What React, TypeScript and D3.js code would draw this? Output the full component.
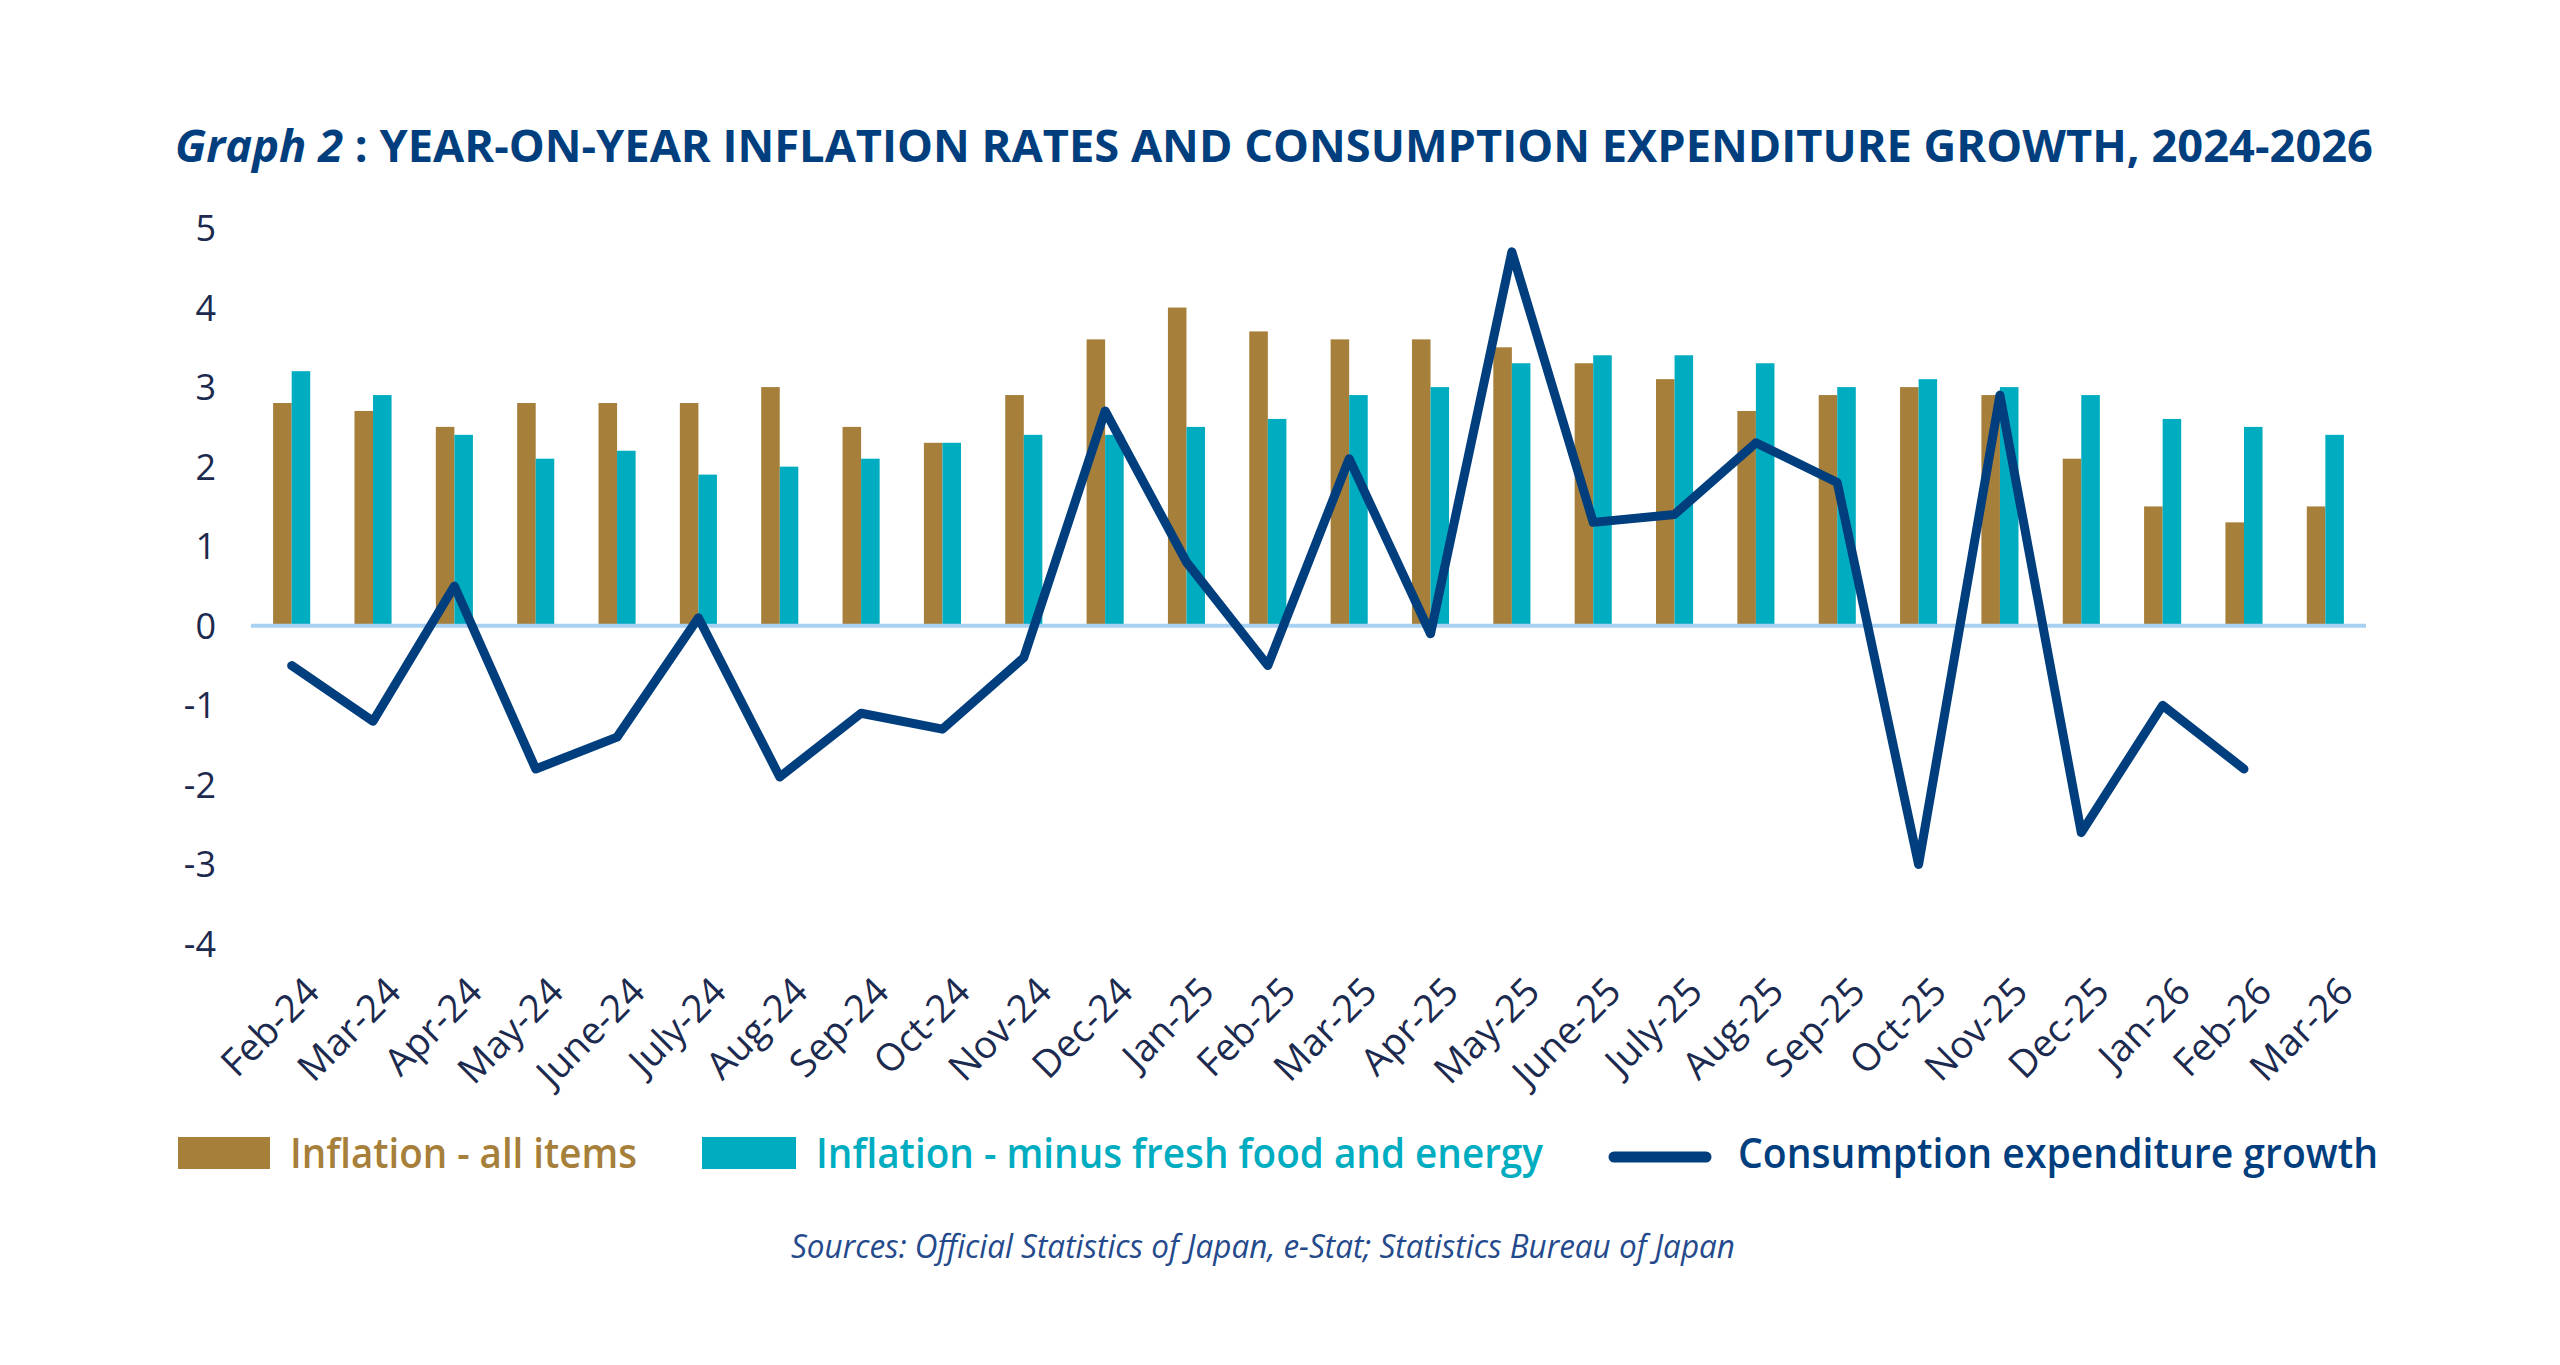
import React, { useRef, useEffect } from 'react';
import * as d3 from 'd3';

// months on the x axis
const months = [
    'Feb-24', 'Mar-24', 'Apr-24', 'May-24', 'June-24', 'July-24', 'Aug-24',
    'Sep-24', 'Oct-24', 'Nov-24', 'Dec-24', 'Jan-25', 'Feb-25', 'Mar-25',
    'Apr-25', 'May-25', 'June-25', 'July-25', 'Aug-25', 'Sep-25', 'Oct-25',
    'Nov-25', 'Dec-25', 'Jan-26', 'Feb-26', 'Mar-26',
];

// inflation - all items (%)
const inflationAll = [
    2.8, 2.7, 2.5, 2.8, 2.8, 2.8, 3.0, 2.5, 2.3, 2.9, 3.6, 4.0, 3.7, 3.6,
    3.6, 3.5, 3.3, 3.1, 2.7, 2.9, 3.0, 2.9, 2.1, 1.5, 1.3, 1.5,
];

// inflation - minus fresh food and energy (%)
const inflationCore = [
    3.2, 2.9, 2.4, 2.1, 2.2, 1.9, 2.0, 2.1, 2.3, 2.4, 2.4, 2.5, 2.6, 2.9,
    3.0, 3.3, 3.4, 3.4, 3.3, 3.0, 3.1, 3.0, 2.9, 2.6, 2.5, 2.4,
];

// consumption expenditure growth (%), no value yet for Mar-26
const consumption: (number | null)[] = [
    -0.5, -1.2, 0.5, -1.8, -1.4, 0.1, -1.9, -1.1, -1.3, -0.4, 2.7, 0.8, -0.5,
    2.1, -0.1, 4.7, 1.3, 1.4, 2.3, 1.8, -3.0, 2.9, -2.6, -1.0, -1.8, null,
];

const yTicks = [5, 4, 3, 2, 1, 0, -1, -2, -3, -4];

const seriesNames = [
    'Inflation - all items',
    'Inflation - minus fresh food and energy',
    'Consumption expenditure growth',
];

const BROWN = '#a67f3a';
const TEAL = '#00acbf';
const NAVY = '#003e7e';
const LABEL = '#1b2a4e';
const FONT = "'Open Sans', 'Noto Sans', sans-serif";

const W = 2560;
const H = 1365;

const App: React.FC = () => {
    const svgRef = useRef<SVGSVGElement | null>(null);

    useEffect(() => {
        document.body.style.margin = '0';
        if (!svgRef.current) return;
        const svg = d3.select(svgRef.current);
        svg.selectAll('*').remove();

        const x = d3
            .scaleBand()
            .domain(months)
            .range([251, 2366])
            .paddingInner(0)
            .paddingOuter(0);

        const y = d3.scaleLinear().domain([-4, 5]).range([944, 228]);

        const barW = x.bandwidth() * 0.228;

        // title
        const title = svg
            .append('text')
            .attr('x', 175)
            .attr('y', 162)
            .attr('fill', NAVY)
            .attr('font-family', FONT)
            .attr('font-size', 44)
            .attr('font-weight', 700);
        title
            .append('tspan')
            .attr('font-style', 'italic')
            .text('Graph 2');
        title.append('tspan').text(' : ');
        title
            .append('tspan')
            .text(
                'YEAR-ON-YEAR INFLATION RATES AND CONSUMPTION EXPENDITURE GROWTH, 2024-2026',
            );
        title.attr('textLength', 2198).attr('lengthAdjust', 'spacingAndGlyphs');

        // y axis labels
        svg.append('g')
            .selectAll('text')
            .data(yTicks)
            .enter()
            .append('text')
            .attr('x', 216)
            .attr('y', (d) => y(d))
            .attr('dy', '0.36em')
            .attr('text-anchor', 'end')
            .attr('fill', LABEL)
            .attr('font-family', FONT)
            .attr('font-size', 36)
            .text((d) => d);

        // bars
        const g = svg.append('g');
        g.selectAll('.bar-all')
            .data(inflationAll)
            .enter()
            .append('rect')
            .attr('x', (_, i) => x(months[i])! + x.bandwidth() / 2 - barW)
            .attr('y', (d) => y(d))
            .attr('width', barW)
            .attr('height', (d) => y(0) - y(d))
            .attr('fill', BROWN);

        g.selectAll('.bar-core')
            .data(inflationCore)
            .enter()
            .append('rect')
            .attr('x', (_, i) => x(months[i])! + x.bandwidth() / 2)
            .attr('y', (d) => y(d))
            .attr('width', barW)
            .attr('height', (d) => y(0) - y(d))
            .attr('fill', TEAL);

        // zero line
        svg.append('line')
            .attr('x1', 251)
            .attr('x2', 2366)
            .attr('y1', y(0))
            .attr('y2', y(0))
            .attr('stroke', '#a8d0f0')
            .attr('stroke-width', 4);

        // consumption line
        const line = d3
            .line<number | null>()
            .defined((d) => d !== null)
            .x((_, i) => x(months[i])! + x.bandwidth() / 2)
            .y((d) => y(d as number));

        svg.append('path')
            .datum(consumption)
            .attr('fill', 'none')
            .attr('stroke', NAVY)
            .attr('stroke-width', 9)
            .attr('stroke-linejoin', 'round')
            .attr('stroke-linecap', 'round')
            .attr('d', line);

        // x axis labels
        svg.append('g')
            .selectAll('text')
            .data(months)
            .enter()
            .append('text')
            .attr(
                'transform',
                (d) =>
                    `translate(${x(d)! + x.bandwidth() / 2 + 30},${994}) rotate(-45)`,
            )
            .attr('text-anchor', 'end')
            .attr('fill', LABEL)
            .attr('font-family', FONT)
            .attr('font-size', 38)
            .text((d) => d);

        // legend
        const legend = svg.append('g');
        legend
            .append('rect')
            .attr('x', 178)
            .attr('y', 1137)
            .attr('width', 92)
            .attr('height', 32)
            .attr('fill', BROWN);
        legend
            .append('text')
            .attr('x', 290)
            .attr('y', 1168)
            .attr('fill', BROWN)
            .attr('font-family', FONT)
            .attr('font-size', 41)
            .attr('font-weight', 600)
            .attr('textLength', 347)
            .attr('lengthAdjust', 'spacingAndGlyphs')
            .text(seriesNames[0]);

        legend
            .append('rect')
            .attr('x', 702)
            .attr('y', 1137)
            .attr('width', 94)
            .attr('height', 32)
            .attr('fill', TEAL);
        legend
            .append('text')
            .attr('x', 816)
            .attr('y', 1168)
            .attr('fill', TEAL)
            .attr('font-family', FONT)
            .attr('font-size', 41)
            .attr('font-weight', 600)
            .attr('textLength', 727)
            .attr('lengthAdjust', 'spacingAndGlyphs')
            .text(seriesNames[1]);

        legend
            .append('line')
            .attr('x1', 1614)
            .attr('x2', 1706)
            .attr('y1', 1157)
            .attr('y2', 1157)
            .attr('stroke', NAVY)
            .attr('stroke-width', 11)
            .attr('stroke-linecap', 'round');
        legend
            .append('text')
            .attr('x', 1738)
            .attr('y', 1168)
            .attr('fill', NAVY)
            .attr('font-family', FONT)
            .attr('font-size', 41)
            .attr('font-weight', 600)
            .attr('textLength', 640)
            .attr('lengthAdjust', 'spacingAndGlyphs')
            .text(seriesNames[2]);

        // source note
        svg.append('text')
            .attr('x', 791)
            .attr('y', 1258)
            .attr('fill', '#244a8c')
            .attr('font-family', FONT)
            .attr('font-size', 32)
            .attr('font-style', 'italic')
            .attr('font-weight', 400)
            .attr('textLength', 944)
            .attr('lengthAdjust', 'spacingAndGlyphs')
            .text('Sources: Official Statistics of Japan, e-Stat; Statistics Bureau of Japan');
    }, []);

    return (
        <div style={{ position: 'absolute', left: 0, top: 0 }}>
            <svg
                ref={svgRef}
                width={W}
                height={H}
                style={{ display: 'block', background: '#ffffff' }}
            ></svg>
        </div>
    );
};

export default App;
